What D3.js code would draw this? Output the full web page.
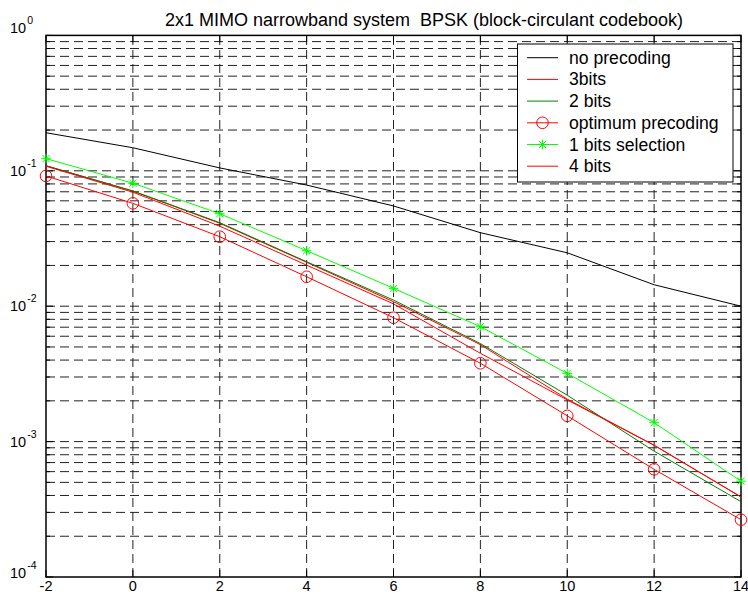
<!DOCTYPE html>
<html>
<head>
<meta charset="utf-8">
<script src="https://cdnjs.cloudflare.com/ajax/libs/d3/7.8.5/d3.min.js"></script>
<style>
  body { margin: 0; background: #fff; }
  svg { display: block; font-family: "Liberation Sans", Arial, Helvetica, sans-serif; }
</style>
</head>
<body>
<svg id="chart" width="748" height="599"></svg>
<script>
// SNR points (x axis) and BER of each curve
var snr = [-2, 0, 2, 4, 6, 8, 10, 12, 14];
var noPrecoding = [0.191, 0.148, 0.105, 0.0785, 0.055, 0.0349, 0.0248, 0.0144, 0.0100];
var bits3 = [0.109, 0.0708, 0.0410, 0.0211, 0.0108, 0.0052, 0.00206, 0.00094, 0.00039];
var bits2 = [0.109, 0.0710, 0.0414, 0.0213, 0.0111, 0.0053, 0.00220, 0.00085, 0.00036];
var optimum = [0.0916, 0.0575, 0.0326, 0.0165, 0.00822, 0.00379, 0.00155, 0.000624, 0.000265];
var bits1 = [0.123, 0.081, 0.0482, 0.0257, 0.01355, 0.00706, 0.00319, 0.00138, 0.00051];
var bits4 = [0.108, 0.0695, 0.0390, 0.0201, 0.0104, 0.00449, 0.00203, 0.00094, 0.00039];

var legendLabels = ["no precoding", "3bits", "2 bits", "optimum precoding", "1 bits selection", "4 bits"];
var xTickValues = [-2, 0, 2, 4, 6, 8, 10, 12, 14];
var yTickExponents = [0, -1, -2, -3, -4];
var titleText = "2x1 MIMO narrowband system  BPSK (block-circulant codebook)";

var series = [
  {values: noPrecoding, color: "#000000", marker: "none"},
  {values: bits3,       color: "#ff0000", marker: "none"},
  {values: bits2,       color: "#008000", marker: "none"},
  {values: optimum,     color: "#ff0000", marker: "circle"},
  {values: bits1,       color: "#00ff00", marker: "star"},
  {values: bits4,       color: "#ff0000", marker: "none"}
];

var svg = d3.select("#chart");
var plot = {left: 46, right: 741, top: 35.4, bottom: 577};

var x = d3.scaleLinear().domain([-2, 14]).range([plot.left, plot.right]);
var y = d3.scaleLog().domain([1e-4, 1]).range([plot.bottom, plot.top]);

var dash = "9,5";
var gridColor = "#222";

// grid: every minor/major log value horizontally, every x tick vertically
var yGridValues = y.ticks().filter(function(v) { return v > 1.0001e-4 && v < 0.9999; });
svg.append("g").selectAll("line")
  .data(yGridValues)
  .enter().append("line")
  .attr("x1", plot.left).attr("x2", plot.right)
  .attr("y1", function(d) { return y(d); })
  .attr("y2", function(d) { return y(d); })
  .attr("stroke", gridColor).attr("stroke-width", 1)
  .attr("stroke-dasharray", dash);

svg.append("g").selectAll("line")
  .data(xTickValues.slice(1, -1))
  .enter().append("line")
  .attr("x1", function(d) { return x(d); })
  .attr("x2", function(d) { return x(d); })
  .attr("y1", plot.bottom).attr("y2", plot.top)
  .attr("stroke", gridColor).attr("stroke-width", 1)
  .attr("stroke-dasharray", dash);

// inward tick marks on all four sides
var majorY = yTickExponents.map(function(e) { return Math.pow(10, e); });
var ticks = svg.append("g").attr("stroke", "#000").attr("stroke-width", 1);
y.ticks().forEach(function(v) {
  var isMajor = majorY.some(function(m) { return Math.abs(Math.log10(m) - Math.log10(v)) < 1e-6; });
  var len = isMajor ? 7 : 4;
  ticks.append("line").attr("x1", plot.left).attr("x2", plot.left + len).attr("y1", y(v)).attr("y2", y(v));
  ticks.append("line").attr("x1", plot.right).attr("x2", plot.right - len).attr("y1", y(v)).attr("y2", y(v));
});
xTickValues.forEach(function(v) {
  ticks.append("line").attr("x1", x(v)).attr("x2", x(v)).attr("y1", plot.bottom).attr("y2", plot.bottom - 7);
  ticks.append("line").attr("x1", x(v)).attr("x2", x(v)).attr("y1", plot.top).attr("y2", plot.top + 7);
});

// axes box
svg.append("rect")
  .attr("x", plot.left).attr("y", plot.top)
  .attr("width", plot.right - plot.left).attr("height", plot.bottom - plot.top)
  .attr("fill", "none").attr("stroke", "#000").attr("stroke-width", 1.5);

// curves
var line = d3.line()
  .x(function(d, i) { return x(snr[i]); })
  .y(function(d) { return y(d); });

series.forEach(function(s) {
  svg.append("path")
    .attr("d", line(s.values))
    .attr("fill", "none")
    .attr("stroke", s.color)
    .attr("stroke-width", 1);
});

function drawMarker(g, type, cx, cy, color) {
  if (type === "circle") {
    g.append("circle").attr("cx", cx).attr("cy", cy).attr("r", 5.8)
      .attr("fill", "none").attr("stroke", color).attr("stroke-width", 1);
  } else if (type === "star") {
    var r = 4.8, d = r * 0.75;
    var segs = [[-r, 0, r, 0], [0, -r, 0, r], [-d, -d, d, d], [-d, d, d, -d]];
    segs.forEach(function(p) {
      g.append("line")
        .attr("x1", cx + p[0]).attr("y1", cy + p[1])
        .attr("x2", cx + p[2]).attr("y2", cy + p[3])
        .attr("stroke", color).attr("stroke-width", 1);
    });
  }
}

var markers = svg.append("g");
series.forEach(function(s) {
  if (s.marker === "none") return;
  s.values.forEach(function(v, i) {
    drawMarker(markers, s.marker, x(snr[i]), y(v), s.color);
  });
});

// tick labels
var xLabels = svg.append("g").attr("font-size", 14.5).attr("text-anchor", "middle").attr("fill", "#000");
xTickValues.forEach(function(v) {
  xLabels.append("text").attr("x", x(v)).attr("y", 591).text(v);
});

var yLabels = svg.append("g").attr("font-size", 14.5).attr("fill", "#000");
yTickExponents.forEach(function(e, i) {
  var shift = 5;
  if (i === 0) shift = -2.7;
  if (i === yTickExponents.length - 1) shift = 1;
  var t = yLabels.append("text").attr("x", 10).attr("y", y(Math.pow(10, e)) + shift);
  t.append("tspan").text("10");
  t.append("tspan").attr("font-size", 10.5).attr("dy", -9).attr("dx", 1).text(e);
});

// title
svg.append("text")
  .attr("x", 424).attr("y", 26)
  .attr("text-anchor", "middle")
  .attr("font-size", 18)
  .attr("fill", "#000")
  .attr("xml:space", "preserve")
  .style("white-space", "pre")
  .text(titleText);

// legend
var legend = svg.append("g");
legend.append("rect")
  .attr("x", 517.5).attr("y", 44)
  .attr("width", 215.5).attr("height", 138)
  .attr("fill", "#fff").attr("stroke", "#000").attr("stroke-width", 1);

legendLabels.forEach(function(label, i) {
  var ly = 57.7 + i * 21.7;
  var s = series[i];
  legend.append("line")
    .attr("x1", 527).attr("x2", 558)
    .attr("y1", ly).attr("y2", ly)
    .attr("stroke", s.color).attr("stroke-width", 1);
  drawMarker(legend, s.marker, 542.5, ly, s.color);
  legend.append("text")
    .attr("x", 569).attr("y", ly + 6)
    .attr("font-size", 17.6)
    .attr("fill", "#000")
    .text(label);
});
</script>
</body>
</html>
